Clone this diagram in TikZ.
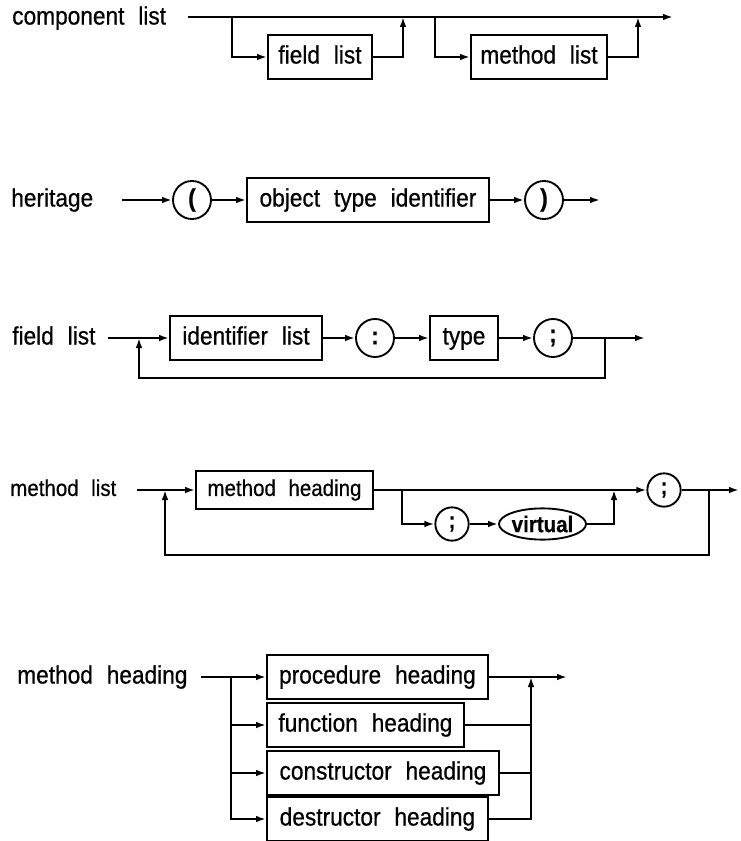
\documentclass[tikz,border=0pt]{standalone}
\usepackage{fontspec}
\setmainfont{Liberation Sans}[WordSpace=2.2, FakeStretch=0.9, FakeBold=0.6]
\usetikzlibrary{arrows.meta,positioning,shapes.geometric}

\begin{document}
\begin{tikzpicture}[x=0.75pt, y=-0.75pt, font=\fontsize{18.9}{22}\selectfont,
  conn/.style={line width=2.1pt},
  flow/.style={conn, -{Latex[length=7.5pt,width=5pt]}},
  rbox/.style={draw, line width=1.4pt, minimum height=32.5pt, inner sep=0pt,
               text height=13.6pt, text depth=3.8pt},
  rterm/.style={draw, circle, line width=1.4pt, minimum size=28.5pt, inner sep=0pt,
                execute at begin node=\bfseries},
  lbl/.style={anchor=west, inner sep=0pt, text height=13.6pt, text depth=3.8pt}]
\useasboundingbox (0,0) rectangle (740,841);

% component list
\node[lbl] (lcomp) at (12,18) {component list};
\coordinate (cs) at (188,17); \coordinate (ce) at (673,17);
\coordinate (cb1) at (232,17); \coordinate (cj1) at (403,17);
\coordinate (cb2) at (435,17); \coordinate (cj2) at (638,17);
\node[rbox, minimum width=78pt] (cfl) at (320,57) {field list};
\node[rbox, minimum width=102pt] (cml) at (539,57) {method list};
\draw[flow] (cs) -- (ce);
\draw[flow] (cb1) |- (cfl.west);
\draw[flow] (cfl.east) -| (cj1);
\draw[flow] (cb2) |- (cml.west);
\draw[flow] (cml.east) -| (cj2);

% heritage
\node[lbl] (lher) at (11,200) {heritage};
\coordinate (hs) at (122,200); \coordinate (he) at (600,200);
\node[rterm] (hop) at (192,200) {(};
\node[rbox, minimum width=181.5pt] (hoti) at (368,200) {object type identifier};
\node[rterm] (hcl) at (544,200) {)};
\draw[flow] (hs) -- (hop);
\draw[flow] (hop) -- (hoti);
\draw[flow] (hoti) -- (hcl);
\draw[flow] (hcl) -- (he);

% field list
\node[lbl] (lfld) at (12,338) {field list};
\coordinate (fs) at (108,338); \coordinate (fjl) at (139,338);
\coordinate (fjr) at (605,338); \coordinate (fe) at (645,338);
\node[rbox, minimum width=114pt] (fidl) at (246,338) {identifier list};
\node[rterm] (fcol) at (375,338) {:};
\node[rbox, minimum width=51pt] (ftyp) at (464,338) {type};
\node[rterm] (fsem) at (553,338) {;};
\draw[conn] (fs) -- (fjl);
\draw[flow] (fjl) -- (fidl);
\draw[flow] (fidl) -- (fcol);
\draw[flow] (fcol) -- (ftyp);
\draw[flow] (ftyp) -- (fsem);
\draw[conn] (fsem) -- (fjr);
\draw[flow] (fjr) -- (fe);
\draw[flow] (fjr) -- ++(0,40) -| (fjl);

% method list
\begin{scope}[font=\fontsize{17.1}{20}\selectfont,
  rbox/.append style={minimum height=28.5pt, text height=12.3pt, text depth=3.4pt},
  lbl/.append style={text height=12.3pt, text depth=3.4pt},
  rterm/.append style={minimum size=25pt}]
\node[lbl] (lmth) at (10,490) {method list};
\coordinate (ms) at (137,490); \coordinate (mjl) at (165,490);
\coordinate (mbr) at (402,490); \coordinate (mju) at (614,490);
\coordinate (mjr) at (709,490); \coordinate (me) at (739,490);
\node[rbox, minimum width=132.75pt] (mhd) at (284.5,490) {method heading};
\node[rterm] (msem1) at (452,524) {;};
\node[draw, ellipse, line width=1.4pt, inner xsep=0pt, inner ysep=2pt,
      execute at begin node=\bfseries] (mvirt) at (542.5,524) {virtual};
\node[rterm] (msem2) at (664,490) {;};
\draw[conn] (ms) -- (mjl);
\draw[flow] (mjl) -- (mhd);
\draw[flow] (mhd) -- (msem2);
\draw[flow] (mbr) |- (msem1.west);
\draw[flow] (msem1) -- (mvirt);
\draw[flow] (mvirt) -| (mju);
\draw[conn] (msem2) -- (mjr);
\draw[flow] (mjr) -- (me);
\draw[flow] (mjr) -- ++(0,65) -| (mjl);
\end{scope}

% method heading
\node[lbl] (lmhd) at (17,677) {method heading};
\coordinate (ks) at (201,677); \coordinate (kjl) at (231,677);
\coordinate (kjr) at (531,677); \coordinate (ke) at (567,677);
\node[rbox, anchor=west, minimum width=165.75pt] (kproc) at (266,677) {procedure heading};
\node[rbox, anchor=west, minimum width=147.75pt] (kfunc) at (266,725) {function heading};
\node[rbox, anchor=west, minimum width=174pt] (kcons) at (266,773) {constructor heading};
\node[rbox, anchor=west, minimum width=165.75pt] (kdest) at (266,819) {destructor heading};
\draw[flow] (ks) -- (kproc);
\foreach \b in {kfunc,kcons,kdest} { \draw[flow] (kjl) |- (\b.west); }
\draw[flow] (kproc.east) -- (ke);
\foreach \b in {kfunc,kcons} { \draw[conn] (\b.east) -- (\b.east -| kjr); }
\draw[flow] (kdest.east) -| (kjr);
\end{tikzpicture}
\end{document}
